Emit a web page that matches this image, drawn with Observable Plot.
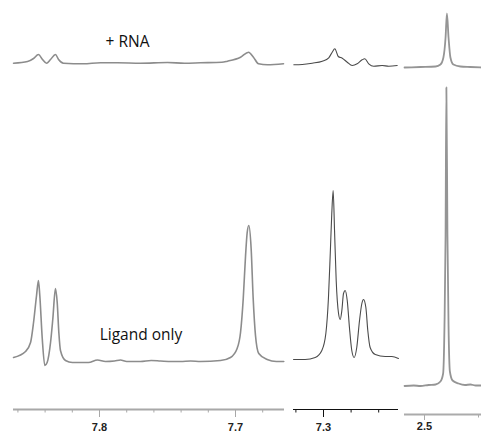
<!DOCTYPE html>
<html>
<head>
<meta charset="utf-8">
<script src="https://cdn.jsdelivr.net/npm/d3@7"></script>
<script src="https://cdn.jsdelivr.net/npm/@observablehq/plot@0.6"></script>
<style>
  html, body { margin: 0; padding: 0; background: #fff; }
  #chart { position: relative; width: 481px; height: 434px; overflow: hidden; background: #fff; }
  #chart svg { position: absolute; left: 0; top: 0; }
</style>
</head>
<body>
<div id="chart"></div>
<script>
// ---- Data: [chemical shift (ppm), intensity (a.u.)] ----
// Panel 1 (7.66–7.86 ppm)
const p1Ligand = [
  [7.8632, 3], [7.8544, 9], [7.8507, 18], [7.8485, 38], [7.8463, 65], [7.8449, 80],
  [7.8439, 65], [7.8421, 22], [7.8402, -5], [7.8385, -2], [7.8360, 18], [7.8343, 42],
  [7.8324, 72], [7.8311, 58], [7.8299, 28], [7.8287, 10], [7.8250, 0], [7.8199, -2],
  [7.8081, -2], [7.8015, 0.5], [7.7956, -1], [7.7890, -0.5], [7.7846, 0.5], [7.7800, -1],
  [7.7699, -1], [7.7620, 0], [7.7551, -0.5], [7.7470, -1], [7.7404, -1], [7.7330, -0.5],
  [7.7257, -1], [7.7110, 0], [7.7037, 3], [7.6988, 12], [7.6963, 28], [7.6943, 62],
  [7.6926, 105], [7.6914, 128], [7.6902, 135], [7.6885, 112], [7.6870, 62], [7.6853, 25],
  [7.6829, 7], [7.6767, 1], [7.6700, -1], [7.6645, -1]
];
const p1Rna = [
  [7.8632, 0.3], [7.8529, 2], [7.8485, 5], [7.8449, 9], [7.8419, 4], [7.8390, 0.3],
  [7.8360, 4], [7.8324, 9], [7.8301, 4], [7.8265, 0.3], [7.8118, -0.3], [7.7993, 0.7],
  [7.7868, 0.7], [7.7699, 0.3], [7.7500, 1], [7.7375, 0.3], [7.7257, 0.7], [7.7100, 1.2],
  [7.7059, 2.3], [7.6963, 6.3], [7.6904, 11.3], [7.6868, 6.3], [7.6831, -0.3],
  [7.6765, -1.3], [7.6647, -0.3]
];
// Panel 2 (7.25–7.32 ppm)
const p2Ligand = [
  [7.3217, -1], [7.3133, -1], [7.3060, 1], [7.3012, 8], [7.2983, 25], [7.2964, 61],
  [7.2951, 105], [7.2940, 145], [7.2930, 168], [7.2920, 128], [7.2908, 78], [7.2891, 45],
  [7.2879, 39], [7.2867, 48], [7.2855, 65], [7.2843, 68], [7.2828, 58], [7.2812, 31],
  [7.2795, 8], [7.2778, 1], [7.2759, 11], [7.2739, 38], [7.2722, 55], [7.2710, 59],
  [7.2693, 51], [7.2679, 28], [7.2662, 11], [7.2625, 4], [7.2553, 2], [7.2505, 2],
  [7.2457, 0]
];
const p2Rna = [
  [7.3215, 0.7], [7.3154, 1], [7.3082, 2.3], [7.3009, 4.3], [7.2962, 7.7], [7.2937, 13.3],
  [7.2918, 16.7], [7.2893, 9], [7.2864, 7.3], [7.2828, 3.3], [7.2792, 0], [7.2756, 1.7],
  [7.2720, 5.7], [7.2701, 6.7], [7.2672, 1.7], [7.2636, -0.7], [7.2575, 0], [7.2527, -0.7],
  [7.2466, 0]
];
// Panel 3 (2.48–2.51 ppm)
const p3Ligand = [
  [2.5074, -0.5], [2.5040, 0], [2.5015, -0.5], [2.4985, 0.5], [2.4959, 1], [2.4941, 4],
  [2.4931, 12], [2.4926, 60], [2.4922, 150], [2.4919, 298], [2.4915, 150], [2.4911, 60],
  [2.4906, 14], [2.4896, 5], [2.4874, 2], [2.4850, 0.5], [2.4830, 1], [2.4810, 0],
  [2.4789, 0]
];
const p3Rna = [
  [2.5074, 0], [2.5015, 0.5], [2.4959, 1], [2.4941, 3], [2.4930, 10], [2.4922, 30],
  [2.4917, 54], [2.4911, 30], [2.4904, 10], [2.4893, 3], [2.4867, 1], [2.4830, 0.5],
  [2.4789, 0]
];

// Axis ticks
const p1Minor = [7.86, 7.84, 7.82, 7.78, 7.76, 7.74, 7.72, 7.68];
const p1Major = [7.8, 7.7];
const p2Minor = [7.32, 7.28, 7.26];
const p2Major = [7.3];
const p3Minor = [2.48];
const p3Major = [2.5];

// Labels
const seriesLabels = ["+ RNA", "Ligand only"];
const labelPos = [[7.7794, 318], [7.7695, 25]]; // in panel-1 data units

// ---- Layout (pixels) ----
const W = 481, H = 434;
const panels = [
  {lig: p1Ligand, rna: p1Rna, xDom: [7.86324, 7.66397], left: 13, right: 284,
   axisY: 409, base: 360, topBase: 63, minor: p1Minor, major: p1Major, tickPad: 6,
   stroke: "#8c8c8c", sw: 1.6, axisStroke: "#a8a8a8", axisW: 2, labels: true},
  {lig: p2Ligand, rna: p2Rna, xDom: [7.32174, 7.24565], left: 293, right: 398,
   axisY: 409, base: 358, topBase: 65, minor: p2Minor, major: p2Major, tickPad: 6,
   stroke: "#4a4a4a", sw: 1.1, axisStroke: "#111", axisW: 1.2, labels: false},
  {lig: p3Ligand, rna: p3Rna, xDom: [2.50741, 2.47889], left: 404, right: 481,
   axisY: 414, base: 385, topBase: 67, minor: p3Minor, major: p3Major, tickPad: 2,
   stroke: "#959595", sw: 1.8, axisStroke: "#ababab", axisW: 2, labels: false}
];

const chart = document.getElementById("chart");
for (const p of panels) {
  const offset = p.base - p.topBase;
  const d0 = p.base - p.axisY;
  const marks = [
    Plot.line(p.lig, {x: d => d[0], y: d => d[1], stroke: p.stroke, strokeWidth: p.sw, curve: "monotone-x"}),
    Plot.line(p.rna, {x: d => d[0], y: d => d[1] + offset, stroke: p.stroke, strokeWidth: p.sw, curve: "monotone-x"}),
    Plot.ruleY([d0], {stroke: p.axisStroke, strokeWidth: p.axisW}),
    Plot.axisX({ticks: p.minor, tickSize: 3.5, tickFormat: () => "", stroke: p.axisStroke, strokeWidth: 1}),
    Plot.axisX({ticks: p.major, tickSize: p.tickPad < 6 ? 6 : 8, tickPadding: p.tickPad, tickFormat: d => d.toFixed(1),
      stroke: p.axisStroke, strokeWidth: 1, fontSize: 11, fontWeight: "bold", fill: "#222"})
  ];
  if (p.labels) {
    marks.push(Plot.text(seriesLabels, {
      x: (d, i) => labelPos[i][0], y: (d, i) => labelPos[i][1], text: d => d,
      fontSize: 15.5, fontFamily: "Open Sans", fill: "#111", textAnchor: "middle"
    }));
  }
  const svg = Plot.plot({
    width: W, height: H,
    marginLeft: p.left, marginRight: W - p.right, marginTop: 0, marginBottom: H - p.axisY,
    x: {domain: p.xDom, axis: null},
    y: {domain: [d0, d0 + p.axisY], axis: null},
    style: {background: "transparent", fontFamily: "Liberation Sans, Arial, sans-serif", overflow: "visible"},
    marks
  });
  chart.appendChild(svg);
}
</script>
</body>
</html>
